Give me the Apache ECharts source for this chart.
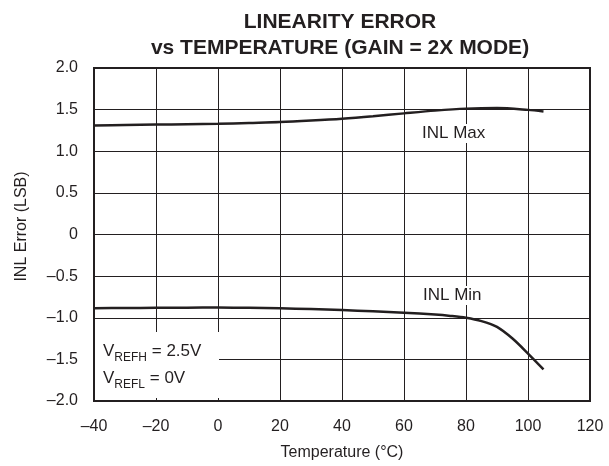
<!DOCTYPE html>
<html>
<head>
<meta charset="utf-8">
<script src="https://cdn.jsdelivr.net/npm/echarts@6/dist/echarts.min.js"></script>
<style>
  html, body { margin: 0; padding: 0; background: #fff; }
  #chart { width: 609px; height: 466px; }
</style>
</head>
<body>
<div id="chart"></div>
<script>
// INL Max curve
const maxTemps = [-40, -30, -20, -10, 0, 10, 20, 30, 40, 50, 60, 70, 80, 90, 100, 105];
const maxInl = [1.31, 1.315, 1.32, 1.325, 1.33, 1.34, 1.35, 1.368, 1.39, 1.42, 1.455, 1.488, 1.512, 1.52, 1.497, 1.477];

// INL Min curve
const minTemps = [-40, -30, -20, -10, 0, 10, 20, 30, 40, 50, 60, 70, 75, 80, 85, 90, 95, 100, 105];
const minInl = [-0.885, -0.883, -0.881, -0.879, -0.878, -0.881, -0.886, -0.896, -0.908, -0.922, -0.94, -0.962, -0.978, -1.0, -1.04, -1.11, -1.25, -1.43, -1.62];

const INK = '#231f20';
const FONT = 'Liberation Sans, Arial, Helvetica, sans-serif';

const dash = (s) => String(s).replace('-', '\u2013');

const toPairs = (xs, ys) => xs.map((x, i) => [x, ys[i]]);

const chart = echarts.init(document.getElementById('chart'));

const option = {
  backgroundColor: '#fff',
  animation: false,
  title: {
    text: 'LINEARITY ERROR\nvs TEMPERATURE (GAIN = 2X MODE)',
    left: 335,
    top: 4,
    textAlign: 'center',
    textStyle: {
      fontFamily: FONT,
      fontWeight: 'bold',
      fontSize: 21,
      lineHeight: 26,
      color: INK
    }
  },
  grid: {
    left: 94,
    right: 19,
    top: 68,
    bottom: 64,
    show: true,
    borderColor: INK,
    borderWidth: 2,
    backgroundColor: 'transparent'
  },
  xAxis: {
    type: 'value',
    min: -40,
    max: 120,
    interval: 20,
    name: 'Temperature (\u00b0C)',
    nameLocation: 'middle',
    nameGap: 44,
    nameTextStyle: { fontFamily: FONT, fontSize: 16, color: INK },
    axisLine: { show: false },
    axisTick: { show: false },
    axisLabel: {
      margin: 18,
      fontFamily: FONT,
      fontSize: 16,
      color: INK,
      formatter: (v) => dash(v)
    },
    splitLine: { show: true, lineStyle: { color: INK, width: 1 } }
  },
  yAxis: {
    type: 'value',
    min: -2,
    max: 2,
    interval: 0.5,
    name: 'INL Error (LSB)',
    nameLocation: 'middle',
    nameGap: 64,
    nameRotate: 90,
    nameTextStyle: { fontFamily: FONT, fontSize: 16, color: INK, padding: [0, 0, 0, 16] },
    axisLine: { show: false },
    axisTick: { show: false },
    axisLabel: {
      margin: 16,
      fontFamily: FONT,
      fontSize: 16,
      color: INK,
      formatter: (v) => (v === 0 ? '0' : dash(v.toFixed(1)))
    },
    splitLine: { show: true, lineStyle: { color: INK, width: 1 } }
  },
  series: [
    {
      name: 'INL Max',
      type: 'line',
      data: toPairs(maxTemps, maxInl),
      smooth: 0.3,
      showSymbol: false,
      lineStyle: { color: INK, width: 2.5 },
      z: 5
    },
    {
      name: 'INL Min',
      type: 'line',
      data: toPairs(minTemps, minInl),
      smooth: 0.3,
      showSymbol: false,
      lineStyle: { color: INK, width: 2.5 },
      z: 5
    }
  ],
  graphic: [
    {
      type: 'text',
      left: 420,
      top: 124,
      z: 10,
      style: {
        text: 'INL Max',
        fontFamily: FONT,
        fontSize: 17,
        fill: INK,
        backgroundColor: '#fff',
        padding: [1, 2, 1, 2]
      }
    },
    {
      type: 'text',
      left: 421,
      top: 286,
      z: 10,
      style: {
        text: 'INL Min',
        fontFamily: FONT,
        fontSize: 17,
        fill: INK,
        backgroundColor: '#fff',
        padding: [1, 2, 1, 2]
      }
    },
    {
      type: 'text',
      left: 95,
      top: 332,
      z: 10,
      style: {
        text: '{v|V}{s|REFH}{v| = 2.5V}\n{v|V}{s|REFL}{v| = 0V}',
        backgroundColor: '#fff',
        width: 112,
        padding: [6, 4, 6, 8],
        rich: {
          v: { fontFamily: FONT, fontSize: 17, fill: INK, lineHeight: 27 },
          s: { fontFamily: FONT, fontSize: 12, fill: INK, lineHeight: 27, padding: [12, 0, 0, 0] }
        }
      }
    }
  ]
};

chart.setOption(option);
</script>
</body>
</html>
